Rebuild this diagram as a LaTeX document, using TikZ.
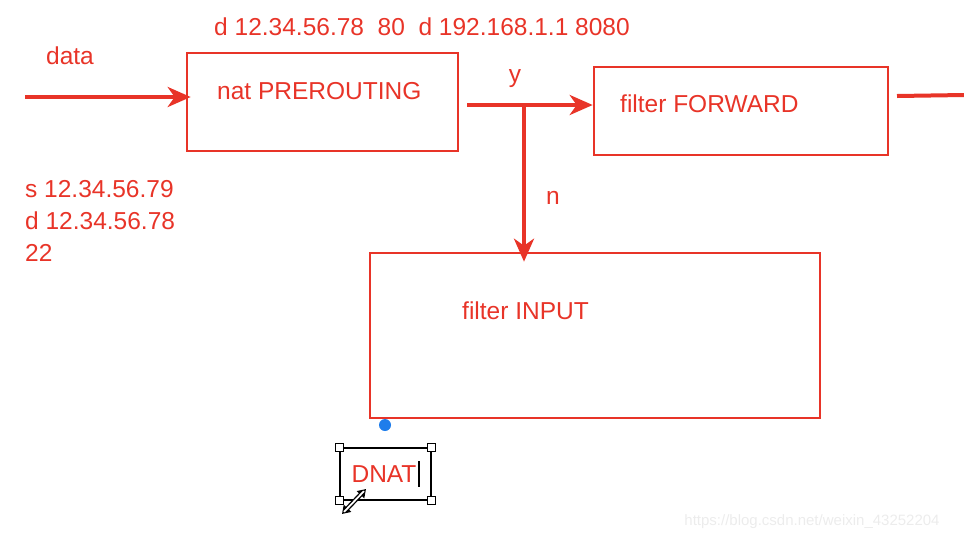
\documentclass[tikz,border=0pt]{standalone}
\usepackage{fontspec}
\setmainfont{Liberation Sans}
\usepackage{xcolor}
\usepackage{tikz}
\usetikzlibrary{positioning, arrows.meta, calc}
\definecolor{natRed}{RGB}{232,52,40}
\definecolor{selBlue}{RGB}{30,125,235}
\definecolor{markGray}{RGB}{236,236,236}

\begin{document}
\begin{tikzpicture}[
    x=1pt, y=-1pt,
    block/.style={rectangle, draw=natRed, line width=2.6pt, inner sep=0pt},
    lbl/.style={text=natRed, inner sep=0pt, font=\fontsize{24.5}{32}\selectfont},
    arrow/.style={-{Stealth[length=23pt,width=20pt,inset=7pt]}, natRed, line width=4pt},
    handle/.style={rectangle, draw=black, fill=white, line width=1pt, minimum size=8pt, inner sep=0pt}
]
\useasboundingbox (0,0) rectangle (964,542);

% Chains
\node[block, minimum width=271pt, minimum height=98pt] (prerouting) at (322.5,102) {};
\node[block, minimum width=294pt, minimum height=88pt] (forward) at (741,111) {};
\node[block, minimum width=450pt, minimum height=165pt] (input) at (595,335.5) {};

\node[lbl, anchor=west] (preText) at (217,91) {nat PREROUTING};
\node[lbl, anchor=west] (fwdText) at (620,104) {filter FORWARD};
\node[lbl, anchor=west] (inText) at (462,311) {filter INPUT};

% Labels
\node[lbl] (dst) at (422,27) {d 12.34.56.78\ \ 80\ \ d 192.168.1.1 8080};
\node[lbl] (data) at (70,56) {data};
\node[lbl] (yes) at (515,79) {y};
\node[lbl] (no) at (553,198) {n};
\node[lbl, anchor=north west, align=left] (packet) at (25,180) {s 12.34.56.79\\d 12.34.56.78\\22};

% Routing
\coordinate (dataIn) at (25,97);
\coordinate (yStart) at (467,105);
\coordinate (branch) at (524,105);
\coordinate (exitStart) at (897,96);
\coordinate (exitEnd) at (964,95);

\draw[arrow, shorten >=-5pt] (dataIn) -- (dataIn -| prerouting.west);
\draw[arrow] (yStart) -- (yStart -| forward.west);
\draw[arrow, shorten >=-10pt] (branch) -- (branch |- input.north);
\draw[natRed, line width=4pt] (exitStart) -- (exitEnd);

% Text box being edited
\fill[selBlue] (385,425) circle (6pt);
\node[rectangle, draw=black, line width=1.3pt, minimum width=91pt, minimum height=52pt, inner sep=0pt] (dnatBox) at (385.5,474) {};
\node[lbl] (dnat) at (384,474) {DNAT};
\draw[black, line width=2pt] ($(dnat.east)+(2,-13)$) -- ($(dnat.east)+(2,13)$);
\foreach \c in {north west, north east, south west, south east}
    \node[handle] at (dnatBox.\c) {};
\coordinate (rsA) at (342,514);
\coordinate (rsB) at (366,489);
\draw[black, line width=4.5pt, {Triangle[length=8pt,width=10pt]}-{Triangle[length=8pt,width=10pt]}] (rsA) -- (rsB);
\draw[white, line width=1.8pt, shorten <=3pt, shorten >=3pt] (rsA) -- (rsB);

% Watermark
\node[text=markGray, inner sep=0pt, font=\fontsize{15}{18}\selectfont] (mark) at (812,522) {https://blog.csdn.net/weixin\_43252204};

\end{tikzpicture}
\end{document}
